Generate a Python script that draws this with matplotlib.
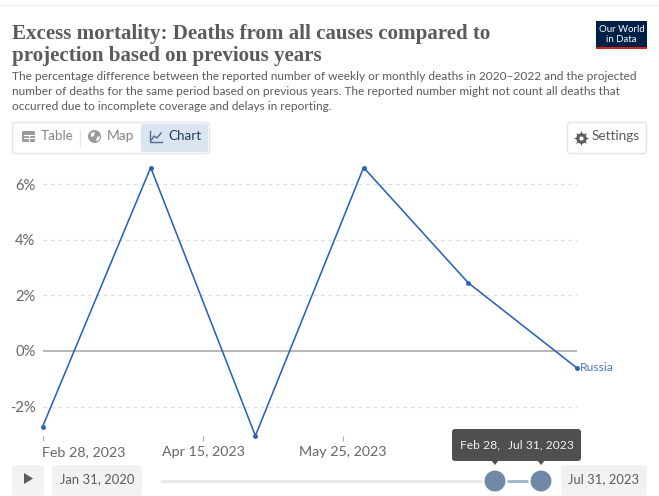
import datetime
import matplotlib
matplotlib.use("Agg")
import matplotlib.pyplot as plt
import matplotlib.dates as mdates
from matplotlib.patches import FancyBboxPatch, Rectangle, Circle, Polygon

plt.rcParams['font.family'] = ['Lato', 'DejaVu Sans']

dates = ["2023-02-28", "2023-03-31", "2023-04-30", "2023-05-31", "2023-06-30", "2023-07-31"]
excess = [-2.73, 6.6, -3.05, 6.6, 2.45, -0.6]
y_ticks = [-2, 0, 2, 4, 6]
y_labels = ["-2%", "0%", "2%", "4%", "6%"]
x_ticks = ["2023-02-28", "2023-04-15", "2023-05-25"]
x_labels = ["Feb 28, 2023", "Apr 15, 2023", "May 25, 2023"]
series_name = "Russia"

title = "Excess mortality: Deaths from all causes compared to\nprojection based on previous years"
subtitle = [
    "The percentage difference between the reported number of weekly or monthly deaths in 2020–2022 and the projected",
    "number of deaths for the same period based on previous years. The reported number might not count all deaths that",
    "occurred due to incomplete coverage and delays in reporting.",
]

W, H = 659, 496
GREY = "#5b5b5b"
BLUE = "#2a62b5"


def to_num(d):
    return mdates.date2num(datetime.datetime.strptime(d, "%Y-%m-%d"))


fig = plt.figure(figsize=(W / 100, H / 100), dpi=100, facecolor="white")

# === Overlay in pixel coords for all the page furniture
ui = fig.add_axes([0, 0, 1, 1], zorder=0)
ui.set_xlim(0, W)
ui.set_ylim(H, 0)
ui.axis("off")


def box(x, y, w, h, fc="white", ec="none", r=3, lw=1, z=2):
    ui.add_patch(FancyBboxPatch((x + r, y + r), w - 2 * r, h - 2 * r,
                                boxstyle=f"round,pad={r},rounding_size={r}",
                                fc=fc, ec=ec, lw=lw, zorder=z))


ui.plot([0, W], [4.5, 4.5], color="#f0f0f0", lw=1)

# Header
ui.text(12, 39.5, title.split("\n")[0], family="Liberation Serif", fontweight="bold",
        fontsize=15.1, color=GREY, va="baseline")
ui.text(12, 61.5, title.split("\n")[1], family="Liberation Serif", fontweight="bold",
        fontsize=15.1, color=GREY, va="baseline")
for i, line in enumerate(subtitle):
    ui.text(12, 80.5 + i * 14.5, line, fontsize=8.53, color=GREY, va="baseline")

# Logo
ui.add_patch(Rectangle((596, 21), 51, 28, fc="#002147", ec="none"))
ui.add_patch(Rectangle((596, 47), 51, 2, fc="#ce261e", ec="none"))
ui.text(621.5, 29.5, "Our World", color="white", fontsize=6.9, ha="center", va="center")
ui.text(621.5, 39.5, "in Data", color="white", fontsize=6.9, ha="center", va="center")

# Tabs
box(12.5, 122.5, 197, 31, ec="#e3e5e8")
box(141, 124, 67, 28, fc="#dbe5f0", r=2, z=3)
ui.plot([79.5, 79.5], [130, 146], color="#e7e7e7", lw=1, zorder=3)
ui.text(41, 136.5, "Table", fontsize=9.7, color="#858585", va="center", zorder=4)
ui.text(107, 136.5, "Map", fontsize=9.9, color="#858585", va="center", zorder=4)
ui.text(168, 136.5, "Chart", fontsize=9.6, color="#1d3d63", va="center", zorder=4)
# table icon
box(22, 131, 13, 11, fc="#9a9a9a", r=1.5, z=4)
ui.plot([23.5, 33.5], [134.5, 134.5], color="white", lw=0.8, zorder=5)
ui.plot([23.5, 33.5], [138.3, 138.3], color="white", lw=0.8, zorder=5)
ui.plot([28.5, 28.5], [135, 141], color="white", lw=0.8, zorder=5)
# globe icon
ui.add_patch(Circle((94.5, 136.5), 6.5, fc="#9a9a9a", ec="none", zorder=4))
ui.add_patch(Polygon([[91, 133], [95, 132], [94, 136], [91, 137]], fc="white", ec="none", zorder=5))
ui.add_patch(Polygon([[97, 137], [100, 136], [99, 140], [96, 141]], fc="white", ec="none", zorder=5))
# chart icon
ui.plot([150, 150, 162], [131, 142, 142], color="#50698a", lw=1, zorder=4)
ui.plot([151.5, 154, 157, 161], [140, 136, 138, 133], color="#50698a", lw=1, zorder=4)

# Settings
box(567.5, 122.5, 79, 31, ec="#e3e5e8")
ui.plot([581], [137.5], marker=(8, 1, 0), ms=11, color="#5f5f5f", mew=0, zorder=4)
ui.plot([581], [137.5], marker="o", ms=7.5, color="#5f5f5f", mew=0, zorder=4)
ui.plot([581], [137.5], marker="o", ms=3, color="white", mew=0, zorder=5)
ui.text(592, 136.5, "Settings", fontsize=9.8, color=GREY, va="center", zorder=4)

# Timeline controls
box(12, 465, 32, 31, fc="#f2f2f2", r=4)
ui.add_patch(Polygon([[24, 473], [24, 484], [33, 478.5]], fc="#5b5b5b", ec="none", zorder=4))
box(52, 465, 90, 31, fc="#f2f2f2", r=4)
ui.text(97, 479, "Jan 31, 2020", fontsize=9.4, color=GREY, ha="center", va="center", zorder=4)
box(561, 465, 86, 31, fc="#f2f2f2", r=4)
ui.text(604, 479, "Jul 31, 2023", fontsize=9.4, color=GREY, ha="center", va="center", zorder=4)
ui.plot([162, 548], [481, 481], color="#e7e7e7", lw=2, solid_capstyle="round", zorder=2)
ui.plot([495, 541], [481, 481], color="#a3b6c8", lw=2, zorder=3)
for hx in (495, 541):
    ui.add_patch(Circle((hx, 481), 11.5, fc="#7089a6", ec="white", lw=1.5, zorder=4))

# Tooltip
box(452, 429, 129, 32, fc="#4f4f4f", r=3, z=5)
for hx in (495, 541):
    ui.add_patch(Polygon([[hx - 4, 460], [hx + 4, 460], [hx, 465]], fc="#4f4f4f", ec="none", zorder=5))
ui.text(460, 445, "Feb 28,", fontsize=8.7, color="#f2f2f2", va="center", zorder=6)
ui.text(508, 445, "Jul 31, 2023", fontsize=8.7, color="#f2f2f2", va="center", zorder=6)

# === Chart axes, placed so the data land on the same pixels as the original
left, right, top, bottom = 42.5, 576.5, 160, 436
ax = fig.add_axes([left / W, 1 - bottom / H, (right - left) / W, (bottom - top) / H], zorder=1)
ax.patch.set_alpha(0)
y_per_px = 1 / 27.8
ax.set_ylim((351 - bottom) * y_per_px, (351 - top) * y_per_px)
x = [to_num(d) for d in dates]
ax.set_xlim(x[0], x[-1])
for s in ax.spines.values():
    s.set_visible(False)

for t in y_ticks:
    if t == 0:
        ax.axhline(0, color="#a3a3a3", lw=1.1, zorder=1)
    else:
        ax.axhline(t, color="#dddddd", lw=0.9, ls=(0, (3, 3)), zorder=1)
ax.plot(x, excess, color=BLUE, lw=1.15, marker="o", ms=2.5, clip_on=False, zorder=3)

ax.set_yticks(y_ticks)
ax.set_yticklabels(y_labels, fontsize=10.6, color="#666666")
ax.tick_params(axis="y", length=0, pad=5)
ax.set_xticks([to_num(d) for d in x_ticks])
ax.set_xticklabels(x_labels, fontsize=10.3, color="#666666")
ax.tick_params(axis="x", length=3.5, width=0.8, color="#b0b0b0", direction="out", pad=4)
ax.get_xticklabels()[0].set_ha("left")

ax.annotate(series_name, (x[-1], excess[-1]), xytext=(2.5, 0), textcoords="offset points",
            color="#4a78bd", fontsize=8.7, va="center", annotation_clip=False)

fig.savefig("out.png", dpi=100)
plt.close(fig)
